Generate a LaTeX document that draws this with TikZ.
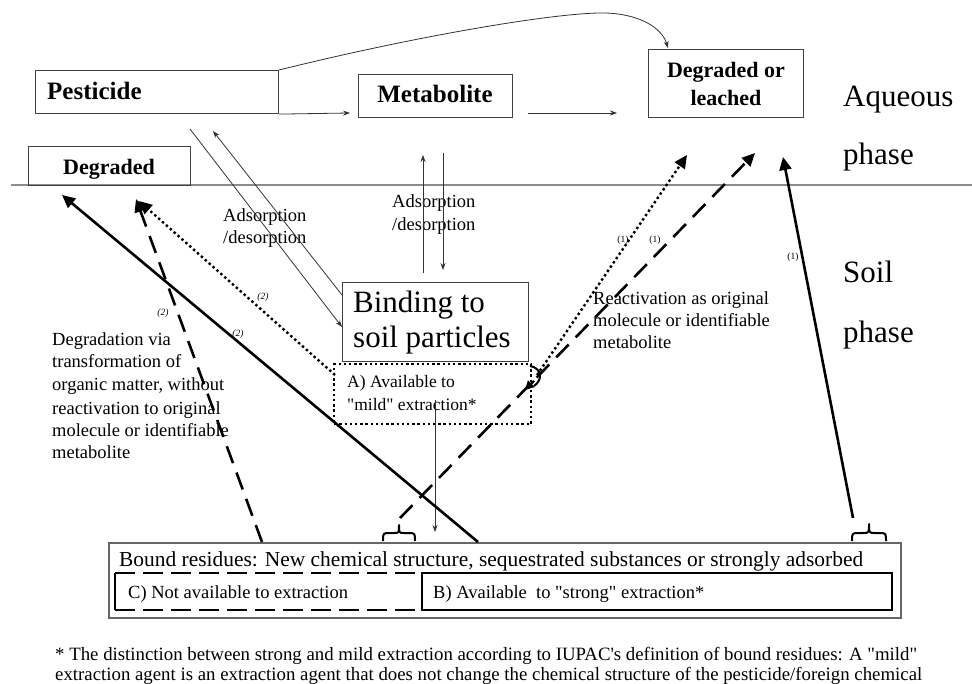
\documentclass[tikz,border=0pt]{standalone}
\usepackage{fontspec}
\setmainfont{Liberation Serif}
\usetikzlibrary{arrows.meta}
\begin{document}
\begin{tikzpicture}[x=1pt,y=-1pt,
  box/.style={draw=black!75, line width=1.1pt, inner sep=0pt},
  thinarrow/.style={line width=0.8pt, draw=black!80, -{Stealth[length=7pt,width=5pt]}},
  boldarrow/.style={line width=2.6pt, -{Triangle[length=13pt,width=12pt]}},
  dotline/.style={line width=2.4pt, dash pattern=on 2.4pt off 2.8pt},
  dashline/.style={line width=2.6pt, dash pattern=on 18pt off 10pt},
  bracebit/.style={line width=2pt, line join=round},
  lbl/.style={inner sep=0pt},
  bigtxt/.style={lbl, anchor=base west, font=\fontsize{31}{34}\selectfont},
  boldtxt/.style={lbl, font=\bfseries\fontsize{25}{30}\selectfont},
  boldsm/.style={lbl, anchor=base, font=\bfseries\fontsize{22}{26}\selectfont},
  smalltxt/.style={lbl, anchor=base west, font=\fontsize{18.5}{22.5}\selectfont},
  tiny/.style={lbl, font=\fontsize{9.5}{11}\selectfont}
]
\useasboundingbox (0,0) rectangle (972,684);
\fill[white] (0,0) rectangle (972,684);

% phase line
\coordinate (hlL) at (11,185);
\coordinate (hlR) at (972,185);
\draw[line width=2pt, black!45] (hlL) -- (hlR);

% aqueous boxes
\node[box, anchor=north west, minimum width=243pt, minimum height=43pt] (pest) at (35,70) {};
\node[boldtxt, anchor=base west] (pestT) at (47,100) {Pesticide};
\node[box, anchor=north west, minimum width=154pt, minimum height=43pt] (meta) at (358,74) {};
\node[boldtxt, anchor=base] (metaT) at (435,103) {Metabolite};
\node[box, anchor=north west, minimum width=155pt, minimum height=68pt] (dol) at (648,49) {};
\node[boldsm] (dolT1) at (726,78) {Degraded or};
\node[boldsm] (dolT2) at (726,106) {leached};
\node[box, anchor=north west, minimum width=162pt, minimum height=39pt] (degr) at (28,146) {};
\node[boldsm] (degrT) at (109,175) {Degraded};

\node[bigtxt] (aq1) at (843,107) {Aqueous};
\node[bigtxt] (aq2) at (843,165) {phase};
\node[bigtxt] (so1) at (843,283) {Soil};
\node[bigtxt] (so2) at (843,343) {phase};

% binding
\node[box, anchor=north west, minimum width=186pt, minimum height=79pt] (bind) at (342,282) {};
\node[bigtxt] (bindT1) at (353,313) {Binding to};
\node[bigtxt] (bindT2) at (353,348) {soil particles};
\node[draw, dotline, inner sep=0pt, anchor=north west, minimum width=197pt, minimum height=60pt] (availA) at (333,363) {};
\node[smalltxt, font=\fontsize{17.5}{21}\selectfont] (aT1) at (347,388) {A) Available to};
\node[smalltxt, font=\fontsize{17.5}{21}\selectfont] (aT2) at (347,410) {\textquotedbl mild\textquotedbl\ extraction*};

% bound residues
\node[draw=black!60, line width=1.6pt, inner sep=0pt, anchor=north west, minimum width=792pt, minimum height=75pt] (bound) at (108,542) {};
\node[lbl, anchor=base west] (boundT) at (119,566) {\resizebox{744pt}{!}{\fontsize{19.5}{22}\selectfont Bound residues: New chemical structure, sequestrated substances or strongly adsorbed}};
\coordinate (cTL) at (115,573);
\coordinate (cBL) at (115,610);
\coordinate (cTR) at (422,573);
\coordinate (cBR) at (422,610);
\coordinate (bTR) at (892,573);
\coordinate (bBR) at (892,610);
\draw[line width=2.4pt] (cTL) -- (cBL);
\draw[line width=2.4pt, dash pattern=on 20pt off 8pt] (cTL) -- (cTR);
\draw[line width=2.4pt, dash pattern=on 20pt off 8pt] (cBL) -- (cBR);
\draw[line width=2.4pt] (cTR) -- (bTR) -- (bBR) -- (cBR) -- cycle;
\node[smalltxt] (cT) at (128,598) {C) Not available to extraction};
\node[smalltxt] (bT) at (433,598) {B) Available\ \ to \textquotedbl strong\textquotedbl\ extraction*};

% footnote
\node[lbl, anchor=base west] (fn1) at (55,660) {\resizebox{862pt}{!}{\fontsize{17}{20}\selectfont * The distinction between strong and mild extraction according to IUPAC\textquotesingle s definition of bound residues: A \textquotedbl mild\textquotedbl}};
\node[lbl, anchor=base west] (fn2) at (55,680) {\resizebox{867pt}{!}{\fontsize{17}{20}\selectfont extraction agent is an extraction agent that does not change the chemical structure of the pesticide/foreign chemical}};

% side texts
\node[smalltxt] (ads1a) at (223,222) {Adsorption};
\node[smalltxt] (ads1b) at (223,244) {/desorption};
\node[smalltxt] (ads2a) at (392,208) {Adsorption};
\node[smalltxt] (ads2b) at (392,231) {/desorption};
\node[smalltxt] (react1) at (593,305) {Reactivation as original};
\node[smalltxt] (react2) at (593,327) {molecule or identifiable};
\node[smalltxt] (react3) at (593,349) {metabolite};
\node[smalltxt] (deg1) at (52,346) {Degradation via};
\node[smalltxt] (deg2) at (52,368) {transformation of};
\node[smalltxt] (deg3) at (52,391) {organic matter, without};
\node[smalltxt] (deg4) at (52,414) {reactivation to original};
\node[smalltxt] (deg5) at (52,436) {molecule or identifiable};
\node[smalltxt] (deg6) at (52,458) {metabolite};

% thin connectors
\coordinate (dolIn) at (668,48);
\draw[thinarrow] (pest.north east) .. controls (420,35) and (560,12) .. (605,13) .. controls (640,14) and (662,28) .. (dolIn);
\coordinate (metaIn) at (350,113);
\draw[thinarrow] (pest.south east) -- (metaIn);
\coordinate (metaOut) at (528,113);
\coordinate (metaTo) at (617,113);
\draw[thinarrow] (metaOut) -- (metaTo);
\coordinate (pAd1) at (190,129);
\coordinate (bindL1) at (342,327);
\draw[thinarrow] (pAd1) -- (bindL1);
\coordinate (bindL2) at (342,295);
\coordinate (pAd2) at (213,131);
\draw[thinarrow] (bindL2) -- (pAd2);
\coordinate (mUpA) at (423,273);
\coordinate (mUpB) at (423,155);
\draw[thinarrow] (mUpA) -- (mUpB);
\coordinate (mDnA) at (443,153);
\coordinate (mDnB) at (443,270);
\draw[thinarrow] (mDnA) -- (mDnB);
\coordinate (aDnA) at (435,400);
\coordinate (aDnB) at (435,532);
\draw[thinarrow] (aDnA) -- (aDnB);

% bold connectors (left)
\coordinate (solA) at (478,542);
\coordinate (solB) at (62,195);
\draw[boldarrow] (solA) -- (solB);
\coordinate (dasA) at (262,542);
\coordinate (dasB) at (136,199);
\draw[boldarrow, dashline] (dasA) -- (dasB);
\coordinate (dotA) at (335,375);
\coordinate (dotB) at (139,201);
\draw[boldarrow, dotline] (dotA) -- (dotB);

% bold connectors (right)
\coordinate (dotC) at (537,375);
\coordinate (dotD) at (687,155);
\draw[boldarrow, dotline] (dotC) -- (dotD);
\coordinate (dasC) at (400,518);
\coordinate (dasD) at (755,153);
\draw[boldarrow, dashline] (dasC) -- (dasD);
\coordinate (solC) at (853,518);
\coordinate (solD) at (783,157);
\draw[boldarrow] (solC) -- (solD);
\coordinate (blobA) at (534,381);
\coordinate (blobB) at (525,390);
\draw[line width=2.4pt, -{Triangle[length=9pt,width=9pt]}] (blobA) -- (blobB);
\draw[line width=2pt] (530,366) .. controls (542,368) and (543,380) .. (534,386);

% braces
\draw[bracebit] (383,541) .. controls (383,533) .. (390,533) -- (394,533) .. controls (399,533) .. (399,525) .. controls (399,533) .. (404,533) -- (408,533) .. controls (415,533) .. (415,541);
\draw[bracebit] (852,541) .. controls (852,533) .. (859,533) -- (863,533) .. controls (869,533) .. (869,524) .. controls (869,533) .. (875,533) -- (879,533) .. controls (886,533) .. (886,541);

% path labels
\node[tiny, font=\itshape\fontsize{9.5}{11}\selectfont] (l2a) at (263,297) {(2)};
\node[tiny, font=\itshape\fontsize{9.5}{11}\selectfont] (l2b) at (163,313) {(2)};
\node[tiny, font=\itshape\fontsize{9.5}{11}\selectfont] (l2c) at (238,334) {(2)};
\node[tiny] (l1a) at (623,240) {(1)};
\node[tiny] (l1b) at (655,240) {(1)};
\node[tiny] (l1c) at (793,257) {(1)};
\end{tikzpicture}
\end{document}
